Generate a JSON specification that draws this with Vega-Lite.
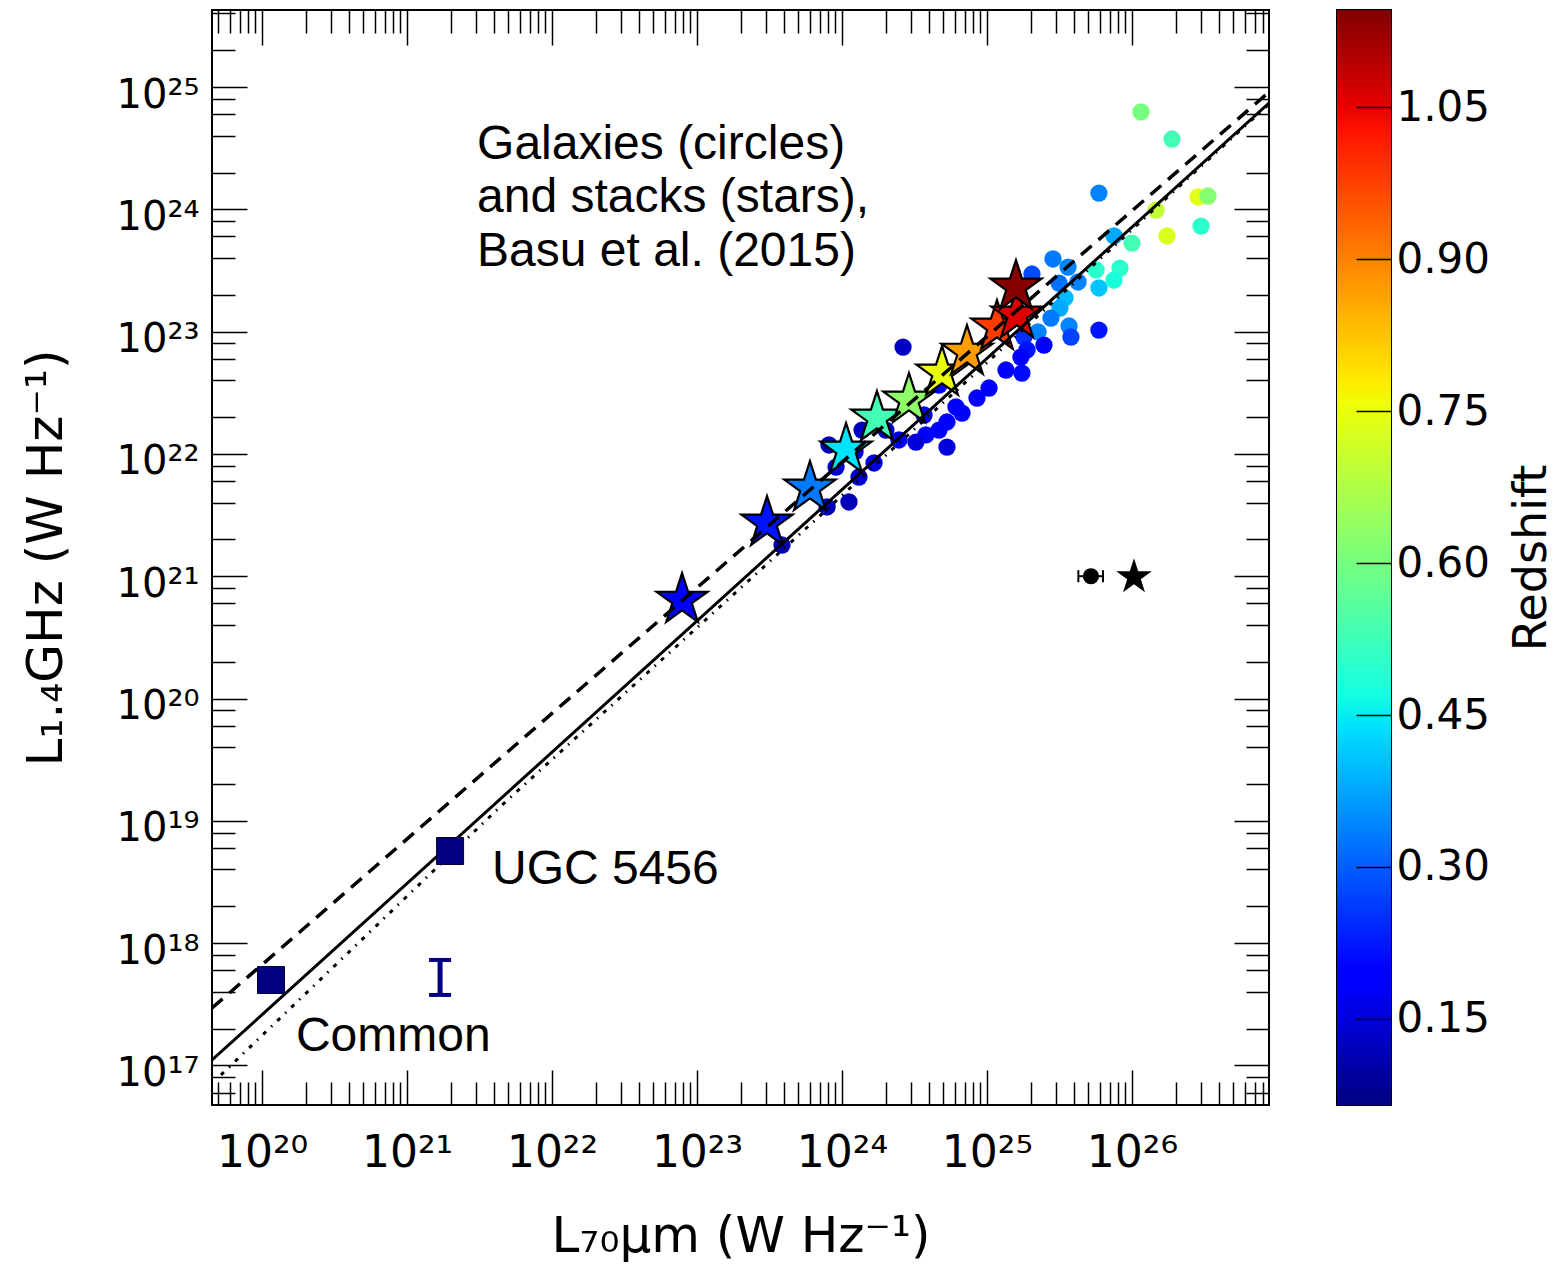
{
  "$schema": "https://vega.github.io/schema/vega-lite/v6.json",
  "background": "white",
  "padding": {"left": 20, "top": 8, "right": 0, "bottom": 0},
  "spacing": 65,
  "config": {
    "view": {"stroke": "black", "strokeWidth": 2},
    "axis": {"labelFont": "DejaVu Sans", "titleFont": "DejaVu Sans", "titleFontWeight": "normal", "labelColor": "black", "titleColor": "black", "tickColor": "black", "tickWidth": 1.5, "domain": false, "grid": false, "labelOverlap": false, "labelFlush": false, "labelBound": false}
  },
  "datasets": {
    "galaxies": [
      {"logL70": 26.062, "logL14": 24.796, "z": 0.60},
      {"logL70": 26.276, "logL14": 24.575, "z": 0.53},
      {"logL70": 25.772, "logL14": 24.133, "z": 0.34},
      {"logL70": 26.166, "logL14": 23.994, "z": 0.70},
      {"logL70": 26.455, "logL14": 24.101, "z": 0.74},
      {"logL70": 26.524, "logL14": 24.109, "z": 0.62},
      {"logL70": 26.476, "logL14": 23.863, "z": 0.50},
      {"logL70": 26.241, "logL14": 23.782, "z": 0.73},
      {"logL70": 25.876, "logL14": 23.782, "z": 0.38},
      {"logL70": 26.000, "logL14": 23.724, "z": 0.53},
      {"logL70": 25.455, "logL14": 23.594, "z": 0.33},
      {"logL70": 25.559, "logL14": 23.528, "z": 0.34},
      {"logL70": 25.752, "logL14": 23.504, "z": 0.50},
      {"logL70": 25.917, "logL14": 23.520, "z": 0.50},
      {"logL70": 25.876, "logL14": 23.422, "z": 0.48},
      {"logL70": 25.310, "logL14": 23.471, "z": 0.28},
      {"logL70": 25.497, "logL14": 23.397, "z": 0.32},
      {"logL70": 25.628, "logL14": 23.406, "z": 0.34},
      {"logL70": 25.772, "logL14": 23.357, "z": 0.41},
      {"logL70": 25.538, "logL14": 23.275, "z": 0.40},
      {"logL70": 25.503, "logL14": 23.193, "z": 0.38},
      {"logL70": 25.441, "logL14": 23.111, "z": 0.33},
      {"logL70": 25.566, "logL14": 23.046, "z": 0.34},
      {"logL70": 25.579, "logL14": 22.956, "z": 0.27},
      {"logL70": 25.772, "logL14": 23.013, "z": 0.22},
      {"logL70": 25.352, "logL14": 22.997, "z": 0.34},
      {"logL70": 25.255, "logL14": 22.956, "z": 0.25},
      {"logL70": 25.276, "logL14": 22.850, "z": 0.22},
      {"logL70": 25.234, "logL14": 22.792, "z": 0.20},
      {"logL70": 25.131, "logL14": 22.686, "z": 0.20},
      {"logL70": 25.241, "logL14": 22.661, "z": 0.21},
      {"logL70": 24.421, "logL14": 22.874, "z": 0.13},
      {"logL70": 25.014, "logL14": 22.539, "z": 0.20},
      {"logL70": 24.931, "logL14": 22.457, "z": 0.20},
      {"logL70": 24.786, "logL14": 22.384, "z": 0.20},
      {"logL70": 24.828, "logL14": 22.334, "z": 0.20},
      {"logL70": 24.724, "logL14": 22.261, "z": 0.19},
      {"logL70": 24.669, "logL14": 22.195, "z": 0.19},
      {"logL70": 24.579, "logL14": 22.155, "z": 0.19},
      {"logL70": 24.510, "logL14": 22.097, "z": 0.15},
      {"logL70": 24.724, "logL14": 22.056, "z": 0.15},
      {"logL70": 24.393, "logL14": 22.114, "z": 0.17},
      {"logL70": 24.303, "logL14": 22.195, "z": 0.13},
      {"logL70": 24.138, "logL14": 22.195, "z": 0.13},
      {"logL70": 23.910, "logL14": 22.073, "z": 0.12},
      {"logL70": 23.959, "logL14": 21.893, "z": 0.14},
      {"logL70": 24.117, "logL14": 21.811, "z": 0.14},
      {"logL70": 24.221, "logL14": 21.926, "z": 0.16},
      {"logL70": 24.048, "logL14": 21.607, "z": 0.12},
      {"logL70": 23.897, "logL14": 21.566, "z": 0.12},
      {"logL70": 23.586, "logL14": 21.255, "z": 0.12},
      {"logL70": 24.090, "logL14": 22.016, "z": 0.15},
      {"logL70": 24.566, "logL14": 22.318, "z": 0.20},
      {"logL70": 24.669, "logL14": 22.563, "z": 0.20},
      {"logL70": 25.393, "logL14": 22.890, "z": 0.20}
    ],
    "stacks": [
      {"logL70": 22.897, "logL14": 20.805, "z": 0.19},
      {"logL70": 23.483, "logL14": 21.435, "z": 0.22},
      {"logL70": 23.779, "logL14": 21.721, "z": 0.33},
      {"logL70": 24.028, "logL14": 22.032, "z": 0.44},
      {"logL70": 24.241, "logL14": 22.294, "z": 0.53},
      {"logL70": 24.462, "logL14": 22.441, "z": 0.63},
      {"logL70": 24.690, "logL14": 22.662, "z": 0.75},
      {"logL70": 24.862, "logL14": 22.833, "z": 0.87},
      {"logL70": 25.069, "logL14": 23.038, "z": 0.98},
      {"logL70": 25.207, "logL14": 23.136, "z": 1.06},
      {"logL70": 25.200, "logL14": 23.365, "z": 1.14}
    ],
    "fit_solid": [
      {"logL70": 19.655, "logL14": 17.044},
      {"logL70": 26.945, "logL14": 24.869}
    ],
    "fit_dashed": [
      {"logL70": 19.655, "logL14": 17.469},
      {"logL70": 26.945, "logL14": 24.959}
    ],
    "fit_dotted": [
      {"logL70": 19.717, "logL14": 16.922},
      {"logL70": 21.648, "logL14": 19.121},
      {"logL70": 23.793, "logL14": 21.435},
      {"logL70": 26.945, "logL14": 24.861}
    ],
    "dwarfs": [
      {"name": "UGC 5456", "logL70": 21.297, "logL14": 18.753},
      {"name": "Common", "logL70": 20.062, "logL14": 17.698}
    ],
    "notes": [
      {"logL70": 21.483, "logL14": 24.526, "text": "Galaxies (circles)"},
      {"logL70": 21.483, "logL14": 24.092, "text": "and stacks (stars),"},
      {"logL70": 21.483, "logL14": 23.651, "text": "Basu et al. (2015)"},
      {"logL70": 21.586, "logL14": 18.598, "text": "UGC 5456"},
      {"logL70": 20.234, "logL14": 17.232, "text": "Common"}
    ],
    "dwarf_err": [{"logL70": 21.228, "lo": 17.576, "hi": 17.862}],
    "dwarf_err_caps": [{"logL70": 21.228, "logL14": 17.576}, {"logL70": 21.228, "logL14": 17.862}],
    "typical_circle": [{"logL70": 25.717, "lo": 25.63, "hi": 25.80, "logL14": 21.0}],
    "typical_circle_caps": [{"logL70": 25.63, "logL14": 21.0}, {"logL70": 25.80, "logL14": 21.0}],
    "typical_star": [{"logL70": 26.014, "logL14": 20.993}],
    "colorbar": [{"z_lo": 0.065, "z_hi": 1.146}]
  },
  "hconcat": [
    {
      "width": 1057,
      "height": 1095,
      "layer": [
        {
          "data": {"name": "galaxies"},
          "mark": {"type": "circle", "size": 300, "opacity": 1},
          "encoding": {
            "x": {"field": "logL70", "type": "quantitative",
              "scale": {"domain": [19.655, 26.945], "nice": false, "zero": false},
              "axis": {
                "orient": "bottom",
                "values": [20, 21, 22, 23, 24, 25, 26],
                "labelExpr": "'10' + substring('⁰¹²³⁴⁵⁶⁷⁸⁹', floor(round(datum.value)/10), floor(round(datum.value)/10) + 1) + substring('⁰¹²³⁴⁵⁶⁷⁸⁹', round(datum.value) % 10, round(datum.value) % 10 + 1)",
                "tickSize": -35,
                "labelFontSize": 44,
                "labelPadding": 61,
                "title": "L₇₀μm (W Hz⁻¹)",
                "titleFontSize": 50,
                "titlePadding": 36
              }
            },
            "y": {"field": "logL14", "type": "quantitative",
              "scale": {"domain": [16.676, 25.63], "nice": false, "zero": false},
              "axis": {
                "orient": "left",
                "values": [17, 18, 19, 20, 21, 22, 23, 24, 25],
                "labelExpr": "'10' + substring('⁰¹²³⁴⁵⁶⁷⁸⁹', floor(round(datum.value)/10), floor(round(datum.value)/10) + 1) + substring('⁰¹²³⁴⁵⁶⁷⁸⁹', round(datum.value) % 10, round(datum.value) % 10 + 1)",
                "tickSize": -35,
                "labelFontSize": 40,
                "labelPadding": 48,
                "labelOffset": 8,
                "title": "L₁.₄GHz (W Hz⁻¹)",
                "titleFontSize": 50,
                "titlePadding": 45
              }
            },
            "color": {"field": "z", "type": "quantitative",
              "scale": {"type": "linear", "interpolate": "rgb",
                "domain": [0.065, 0.1839, 0.2001, 0.4325, 0.4434, 0.4704, 0.6055, 0.7568, 0.7677, 0.7785, 1.0271, 1.0487, 1.146],
                "range": ["#000080", "#0000ff", "#0000ff", "#00dbff", "#00e6f7", "#15ffe2", "#7bff7b", "#efff08", "#f7f500", "#ffec00", "#ff1300", "#e80000", "#800000"]},
              "legend": null}
          }
        },
        {
          "data": {"name": "galaxies"},
          "mark": {"type": "point", "opacity": 0},
          "encoding": {
            "x": {"field": "logL70", "type": "quantitative",
              "axis": {
                "orient": "bottom", "labels": false, "title": null, "tickSize": -23,
                "values": [19.69897, 19.77815, 19.8451, 19.90309, 19.95424, 20.30103, 20.47712, 20.60206, 20.69897, 20.77815, 20.8451, 20.90309, 20.95424, 21.30103, 21.47712, 21.60206, 21.69897, 21.77815, 21.8451, 21.90309, 21.95424, 22.30103, 22.47712, 22.60206, 22.69897, 22.77815, 22.8451, 22.90309, 22.95424, 23.30103, 23.47712, 23.60206, 23.69897, 23.77815, 23.8451, 23.90309, 23.95424, 24.30103, 24.47712, 24.60206, 24.69897, 24.77815, 24.8451, 24.90309, 24.95424, 25.30103, 25.47712, 25.60206, 25.69897, 25.77815, 25.8451, 25.90309, 25.95424, 26.30103, 26.47712, 26.60206, 26.69897, 26.77815, 26.8451, 26.90309]
              }
            },
            "y": {"field": "logL14", "type": "quantitative",
              "axis": {
                "orient": "left", "labels": false, "title": null, "tickSize": -23,
                "values": [16.77815, 16.90309, 17.30103, 17.60206, 17.77815, 17.90309, 18.30103, 18.60206, 18.77815, 18.90309, 19.30103, 19.60206, 19.77815, 19.90309, 20.30103, 20.60206, 20.77815, 20.90309, 21.30103, 21.60206, 21.77815, 21.90309, 22.30103, 22.60206, 22.77815, 22.90309, 23.30103, 23.60206, 23.77815, 23.90309, 24.30103, 24.60206, 24.77815, 24.90309, 25.30103, 25.60206]
              }
            }
          }
        },
        {
          "data": {"name": "galaxies"},
          "mark": {"type": "point", "opacity": 0},
          "encoding": {
            "x": {"field": "logL70", "type": "quantitative",
              "axis": {"orient": "top", "labels": false, "title": null, "tickSize": -35, "values": [20, 21, 22, 23, 24, 25, 26]}
            },
            "y": {"field": "logL14", "type": "quantitative",
              "axis": {"orient": "right", "labels": false, "title": null, "tickSize": -35, "values": [17, 18, 19, 20, 21, 22, 23, 24, 25]}
            }
          }
        },
        {
          "data": {"name": "galaxies"},
          "mark": {"type": "point", "opacity": 0},
          "encoding": {
            "x": {"field": "logL70", "type": "quantitative",
              "axis": {
                "orient": "top", "labels": false, "title": null, "tickSize": -23,
                "values": [19.69897, 19.77815, 19.8451, 19.90309, 19.95424, 20.30103, 20.47712, 20.60206, 20.69897, 20.77815, 20.8451, 20.90309, 20.95424, 21.30103, 21.47712, 21.60206, 21.69897, 21.77815, 21.8451, 21.90309, 21.95424, 22.30103, 22.47712, 22.60206, 22.69897, 22.77815, 22.8451, 22.90309, 22.95424, 23.30103, 23.47712, 23.60206, 23.69897, 23.77815, 23.8451, 23.90309, 23.95424, 24.30103, 24.47712, 24.60206, 24.69897, 24.77815, 24.8451, 24.90309, 24.95424, 25.30103, 25.47712, 25.60206, 25.69897, 25.77815, 25.8451, 25.90309, 25.95424, 26.30103, 26.47712, 26.60206, 26.69897, 26.77815, 26.8451, 26.90309]
              }
            },
            "y": {"field": "logL14", "type": "quantitative",
              "axis": {
                "orient": "right", "labels": false, "title": null, "tickSize": -23,
                "values": [16.77815, 16.90309, 17.30103, 17.60206, 17.77815, 17.90309, 18.30103, 18.60206, 18.77815, 18.90309, 19.30103, 19.60206, 19.77815, 19.90309, 20.30103, 20.60206, 20.77815, 20.90309, 21.30103, 21.60206, 21.77815, 21.90309, 22.30103, 22.60206, 22.77815, 22.90309, 23.30103, 23.60206, 23.77815, 23.90309, 24.30103, 24.60206, 24.77815, 24.90309, 25.30103, 25.60206]
              }
            }
          }
        },
        {
          "data": {"name": "stacks"},
          "mark": {"type": "point", "shape": "M0,-1L0.2245,-0.309L0.9511,-0.309L0.3633,0.118L0.5878,0.809L0,0.382L-0.5878,0.809L-0.3633,0.118L-0.9511,-0.309L-0.2245,-0.309Z", "filled": true, "size": 2900, "stroke": "black", "strokeWidth": 2.2, "opacity": 1},
          "encoding": {
            "x": {"field": "logL70", "type": "quantitative", "axis": null},
            "y": {"field": "logL14", "type": "quantitative", "axis": null},
            "fill": {"field": "z", "type": "quantitative",
              "scale": {"type": "linear", "interpolate": "rgb",
                "domain": [0.065, 0.1839, 0.2001, 0.4325, 0.4434, 0.4704, 0.6055, 0.7568, 0.7677, 0.7785, 1.0271, 1.0487, 1.146],
                "range": ["#000080", "#0000ff", "#0000ff", "#00dbff", "#00e6f7", "#15ffe2", "#7bff7b", "#efff08", "#f7f500", "#ffec00", "#ff1300", "#e80000", "#800000"]},
              "legend": null}
          }
        },
        {
          "data": {"name": "fit_solid"},
          "mark": {"type": "line", "color": "black", "strokeWidth": 3, "clip": true},
          "encoding": {
            "x": {"field": "logL70", "type": "quantitative", "axis": null},
            "y": {"field": "logL14", "type": "quantitative", "axis": null}
          }
        },
        {
          "data": {"name": "fit_dashed"},
          "mark": {"type": "line", "color": "black", "strokeWidth": 3.5, "strokeDash": [14, 9], "clip": true},
          "encoding": {
            "x": {"field": "logL70", "type": "quantitative", "axis": null},
            "y": {"field": "logL14", "type": "quantitative", "axis": null}
          }
        },
        {
          "data": {"name": "fit_dotted"},
          "mark": {"type": "line", "color": "black", "strokeWidth": 3, "strokeDash": [4, 7, 1.5, 7], "clip": true},
          "encoding": {
            "x": {"field": "logL70", "type": "quantitative", "axis": null},
            "y": {"field": "logL14", "type": "quantitative", "axis": null}
          }
        },
        {
          "data": {"name": "dwarfs"},
          "mark": {"type": "point", "shape": "square", "filled": true, "size": 729, "color": "#000080", "stroke": "#000030", "strokeWidth": 1, "opacity": 1},
          "encoding": {
            "x": {"field": "logL70", "type": "quantitative", "axis": null},
            "y": {"field": "logL14", "type": "quantitative", "axis": null}
          }
        },
        {
          "data": {"name": "dwarf_err"},
          "mark": {"type": "rule", "color": "#000080", "strokeWidth": 5},
          "encoding": {
            "x": {"field": "logL70", "type": "quantitative", "axis": null},
            "y": {"field": "lo", "type": "quantitative", "axis": null},
            "y2": {"field": "hi"}
          }
        },
        {
          "data": {"name": "dwarf_err_caps"},
          "mark": {"type": "tick", "orient": "horizontal", "color": "#000080", "size": 22, "thickness": 4, "opacity": 1},
          "encoding": {
            "x": {"field": "logL70", "type": "quantitative", "axis": null},
            "y": {"field": "logL14", "type": "quantitative", "axis": null}
          }
        },
        {
          "data": {"name": "typical_circle"},
          "mark": {"type": "rule", "color": "black", "strokeWidth": 2},
          "encoding": {
            "x": {"field": "lo", "type": "quantitative", "axis": null},
            "x2": {"field": "hi"},
            "y": {"field": "logL14", "type": "quantitative", "axis": null}
          }
        },
        {
          "data": {"name": "typical_circle_caps"},
          "mark": {"type": "tick", "orient": "vertical", "color": "black", "size": 12, "thickness": 2, "opacity": 1},
          "encoding": {
            "x": {"field": "logL70", "type": "quantitative", "axis": null},
            "y": {"field": "logL14", "type": "quantitative", "axis": null}
          }
        },
        {
          "data": {"name": "typical_circle"},
          "mark": {"type": "circle", "size": 260, "color": "black", "opacity": 1},
          "encoding": {
            "x": {"field": "logL70", "type": "quantitative", "axis": null},
            "y": {"field": "logL14", "type": "quantitative", "axis": null}
          }
        },
        {
          "data": {"name": "typical_star"},
          "mark": {"type": "point", "shape": "M0,-1L0.2245,-0.309L0.9511,-0.309L0.3633,0.118L0.5878,0.809L0,0.382L-0.5878,0.809L-0.3633,0.118L-0.9511,-0.309L-0.2245,-0.309Z", "filled": true, "size": 1400, "color": "black", "opacity": 1},
          "encoding": {
            "x": {"field": "logL70", "type": "quantitative", "axis": null},
            "y": {"field": "logL14", "type": "quantitative", "axis": null}
          }
        },
        {
          "data": {"name": "notes"},
          "mark": {"type": "text", "align": "left", "baseline": "middle", "font": "Liberation Sans", "fontSize": 48, "color": "black"},
          "encoding": {
            "x": {"field": "logL70", "type": "quantitative", "axis": null},
            "y": {"field": "logL14", "type": "quantitative", "axis": null},
            "text": {"field": "text"}
          }
        }
      ],
      "resolve": {"axis": {"x": "independent", "y": "independent"}}
    },
    {
      "width": 54,
      "height": 1095,
      "data": {"name": "colorbar"},
      "mark": {"type": "rect",
        "color": {"gradient": "linear", "x1": 0, "y1": 1, "x2": 0, "y2": 0,
          "stops": [
            {"offset": 0, "color": "#000080"},
            {"offset": 0.11, "color": "#0000ff"},
            {"offset": 0.125, "color": "#0000ff"},
            {"offset": 0.34, "color": "#00dbff"},
            {"offset": 0.35, "color": "#00e6f7"},
            {"offset": 0.375, "color": "#15ffe2"},
            {"offset": 0.5, "color": "#7bff7b"},
            {"offset": 0.64, "color": "#efff08"},
            {"offset": 0.65, "color": "#f7f500"},
            {"offset": 0.66, "color": "#ffec00"},
            {"offset": 0.89, "color": "#ff1300"},
            {"offset": 0.91, "color": "#e80000"},
            {"offset": 1, "color": "#800000"}
          ]}
      },
      "encoding": {
        "y": {"field": "z_lo", "type": "quantitative",
          "scale": {"domain": [0.065, 1.146], "nice": false, "zero": false},
          "axis": {
            "orient": "right",
            "values": [0.15, 0.3, 0.45, 0.6, 0.75, 0.9, 1.05],
            "format": ".2f",
            "tickSize": -35,
            "zindex": 1,
            "labelFontSize": 42,
            "labelPadding": 40,
            "title": "Redshift",
            "titleFontSize": 46,
            "titleAngle": 270,
            "titleBaseline": "top",
            "titlePadding": 20
          }
        },
        "y2": {"field": "z_hi"}
      }
    }
  ]
}
